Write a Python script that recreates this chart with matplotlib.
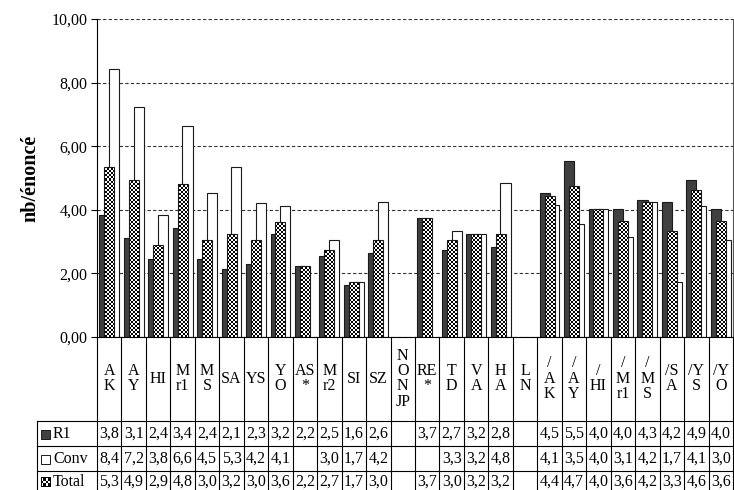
import numpy as np
import matplotlib.pyplot as plt
from matplotlib.path import Path
from matplotlib.patches import Rectangle

plt.rcParams['font.family'] = ['Liberation Serif', 'DejaVu Serif']

cats = ["A\nK", "A\nY", "HI", "M\nr1", "M\nS", "SA", "YS", "Y\nO", "AS\n*", "M\nr2",
        "SI", "SZ", "N\nO\nN\nJP", "RE\n*", "T\nD", "V\nA", "H\nA", "L\nN",
        "/\nA\nK", "/\nA\nY", "/\nHI", "/\nM\nr1", "/\nM\nS", "/S\nA", "/Y\nS", "/Y\nO"]

nan = np.nan
r1 = [3.84, 3.10, 2.44, 3.44, 2.44, 2.13, 2.30, 3.24, 2.24, 2.54, 1.64, 2.64, nan,
      3.73, 2.74, 3.24, 2.84, nan, 4.54, 5.54, 4.04, 4.01, 4.31, 4.24, 4.94, 4.04]
conv = [8.42, 7.24, 3.84, 6.64, 4.54, 5.34, 4.22, 4.13, nan, 3.04, 1.74, 4.24, nan,
        nan, 3.33, 3.24, 4.83, nan, 4.14, 3.54, 4.03, 3.14, 4.24, 1.74, 4.13, 3.04]
total = [5.34, 4.94, 2.89, 4.81, 3.04, 3.24, 3.04, 3.62, 2.24, 2.74, 1.72, 3.04, nan,
         3.73, 3.04, 3.24, 3.24, nan, 4.44, 4.74, 4.04, 3.64, 4.24, 3.34, 4.61, 3.64]

series = [("R1", r1), ("Conv", conv), ("Total", total)]

W, H = 734, 490
fig = plt.figure(figsize=(W / 100, H / 100), dpi=100)
L, R, T, B = 97, 733, 19, 337
ax = fig.add_axes([L / W, 1 - B / H, (R - L) / W, (B - T) / H])

n = len(cats)
bw = 0.41
dark = '#404040'
edge = '#1a1a1a'
fs = 11.5


def valid(vals):
    idx = [i for i, v in enumerate(vals) if not np.isnan(v)]
    return np.array(idx), np.array([vals[i] for i in idx])


i, v = valid(r1)
ax.bar(i - 0.2, v, bw, color=dark, edgecolor=edge, linewidth=0.8, zorder=2)
i, v = valid(conv)
ax.bar(i + 0.2, v, bw, color='white', edgecolor=edge, linewidth=0.8, zorder=2)
i, v = valid(total)
tb = ax.bar(i, v, bw, color='none', edgecolor=edge, linewidth=0.8, zorder=4)

ax.set_xlim(-0.5, n - 0.5)
ax.set_ylim(0, 10)

# checkerboard fill for Total bars
cell = 2
ny, nx = (B - T) // cell, (R - L) // cell
checker = (np.add.outer(np.arange(ny), np.arange(nx)) % 2).astype(float)
im = ax.imshow(checker, cmap='gray', vmin=0, vmax=1, extent=(-0.5, n - 0.5, 0, 10),
               aspect='auto', interpolation='nearest', zorder=3)
clip = Path.make_compound_path(*[b.get_path().transformed(b.get_patch_transform()) for b in tb])
im.set_clip_path(clip, ax.transData)

ax.set_yticks(np.arange(0, 11, 2))
ax.set_yticklabels([f"{t:.2f}".replace('.', ',') for t in np.arange(0, 11, 2)])
ax.tick_params(axis='y', direction='out', length=4, labelsize=fs, pad=3)
ax.set_xticks([])
ax.yaxis.grid(True, linestyle=(0, (3, 2)), color='#333333', linewidth=0.8, zorder=0)
ax.set_axisbelow(True)
ax.spines['top'].set_visible(False)
ax.spines['right'].set_color('#555555')
ax.set_ylabel("nb/énoncé", fontsize=14.5, fontweight='bold', labelpad=8)

# data table under the axes
to_ax = lambda py: (B - py) / (B - T)
rows_y = [to_ax(420.5), to_ax(446), to_ax(471), to_ax(H + 5)]
label_left = (37 - L) / (R - L)
trans = ax.get_xaxis_transform()
for k in range(n + 1):
    ax.plot([k - 0.5, k - 0.5], [0, rows_y[-1]], color='black', lw=0.8,
            transform=trans, clip_on=False)
ax.plot([label_left, label_left], [rows_y[0], rows_y[-1]], color='black', lw=0.8,
        transform=ax.transAxes, clip_on=False)
for yy in rows_y[:3]:
    ax.plot([label_left, 1], [yy, yy], color='black', lw=0.8,
            transform=ax.transAxes, clip_on=False)

for k, c in enumerate(cats):
    ax.text(k, rows_y[0] / 2, c, transform=trans, ha='center', va='center',
            fontsize=fs, linespacing=0.95, clip_on=False)

key_colors = [dark, 'white', None]
row_mid = [to_ax(434), to_ax(459), to_ax(481.5)]
for r, (name, vals) in enumerate(series):
    ymid = row_mid[r]
    for k, val in enumerate(vals):
        if not np.isnan(val):
            ax.text(k, ymid, f"{val:.1f}".replace('.', ','), transform=trans,
                    ha='center', va='center', fontsize=fs, clip_on=False)
    fy_px = B - ymid * (B - T)
    ax.text(label_left + 16 / (R - L), ymid, name, transform=ax.transAxes, ha='left',
            va='center', fontsize=fs, clip_on=False)
    if key_colors[r] is not None:
        fig.patches.append(Rectangle((41 / W, 1 - (fy_px + 4.5) / H), 9 / W, 9 / H,
                                     transform=fig.transFigure, facecolor=key_colors[r],
                                     edgecolor=edge, linewidth=0.7))
    else:
        kax = fig.add_axes([41 / W, 1 - (fy_px + 4.5) / H, 9 / W, 9 / H])
        kc = (np.add.outer(np.arange(4), np.arange(4)) % 2).astype(float)
        kax.imshow(kc, cmap='gray', vmin=0, vmax=1, interpolation='nearest', aspect='auto')
        kax.set_xticks([])
        kax.set_yticks([])
        for s in kax.spines.values():
            s.set_linewidth(0.7)

fig.savefig("out.png", dpi=100)
